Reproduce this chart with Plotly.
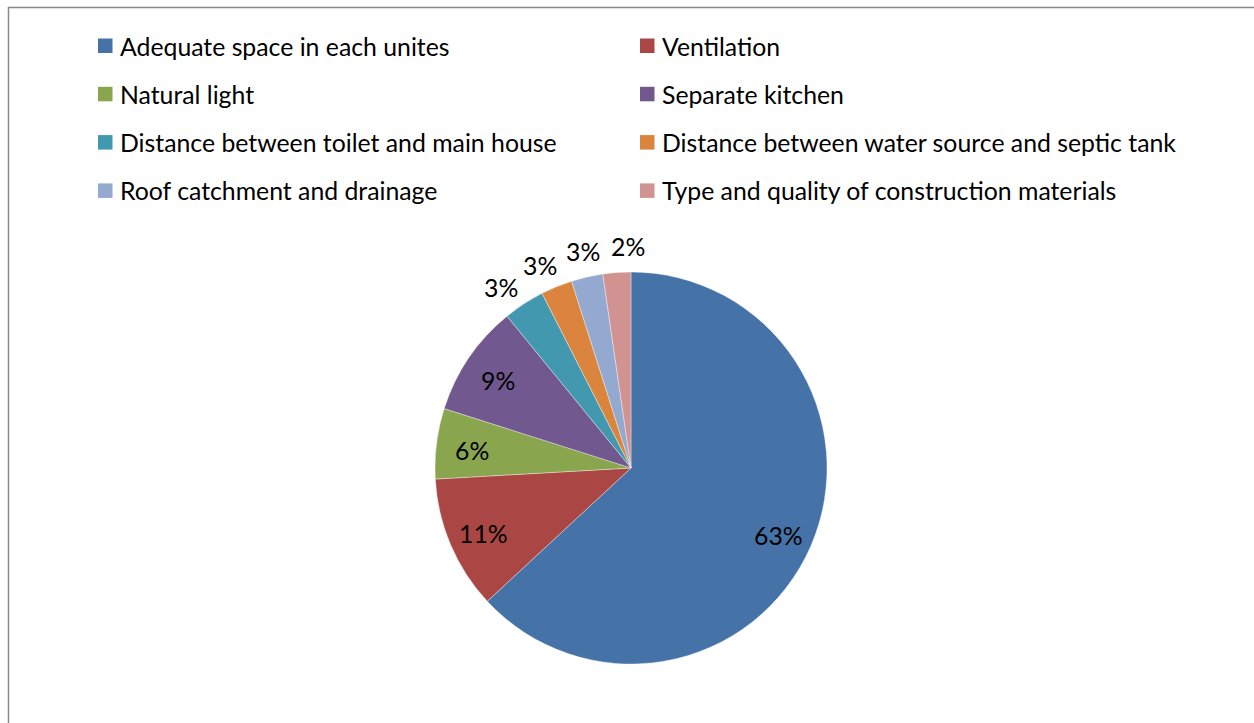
import math
import plotly.graph_objects as go

categories = [
    "Adequate space in each unites",
    "Ventilation",
    "Natural light",
    "Separate kitchen",
    "Distance between toilet and main house",
    "Distance between water source and septic tank",
    "Roof catchment and drainage",
    "Type and quality of construction materials",
]
values = [63.1, 11.0, 5.8, 9.2, 3.4, 2.6, 2.6, 2.3]
colors = ["#4572A7", "#AA4643", "#89A54E", "#71588F",
          "#4198AF", "#DB843D", "#93A9CF", "#D19392"]
label_outside = [False, False, False, False, True, True, True, True]

W, H = 1254, 723
FONT = "Lato"
FS = 24.8

def px(x):
    return x / W

def py(y):
    return 1 - y / H

cx, cy, r = 631, 468, 196

fig = go.Figure(go.Pie(
    labels=categories,
    values=values,
    sort=False,
    direction="clockwise",
    rotation=0,
    marker=dict(colors=colors, line=dict(color="rgba(255,255,255,0.6)", width=0.6)),
    textinfo="none",
    showlegend=False,
    domain=dict(x=[px(cx - r), px(cx + r)], y=[py(cy + r), py(cy - r)]),
    hoverinfo="label+percent",
))

shapes = [dict(type="rect", xref="paper", yref="paper",
               x0=px(8.5), x1=1.02, y0=py(7.5), y1=-0.02,
               line=dict(color="#898989", width=1.5), fillcolor="rgba(0,0,0,0)")]
annotations = []

# legend (two columns)
for i, (cat, col) in enumerate(zip(categories, colors)):
    c, row = i % 2, i // 2
    xoff = c * 542
    ycen = 46 + row * 48.3
    shapes.append(dict(type="rect", xref="paper", yref="paper",
                       x0=px(98 + xoff), x1=px(112.5 + xoff),
                       y0=py(ycen - 7.5), y1=py(ycen + 7),
                       fillcolor=col, line=dict(width=0)))
    annotations.append(dict(xref="paper", yref="paper", x=px(118 + xoff), y=py(ycen),
                            text=cat, showarrow=False, xanchor="left", yanchor="middle",
                            font=dict(family=FONT, size=FS, color="black")))

# percentage labels at slice mid-angles
total = sum(values)
mids = []
cum = 0.0
for v in values:
    mids.append((cum + v / 2) / total * 360.0)
    cum += v

# spread crowded outside labels so they keep a minimum angular gap
out_idx = [i for i, o in enumerate(label_outside) if o]
ang = {i: mids[i] for i in out_idx}
MIN_GAP = 11.5
for _ in range(200):
    for a, b in zip(out_idx, out_idx[1:]):
        gap = ang[b] - ang[a]
        if gap < MIN_GAP:
            d = (MIN_GAP - gap) / 2
            ang[a] -= d
            ang[b] += d

for i, (v, outside) in enumerate(zip(values, label_outside)):
    theta = math.radians(ang.get(i, mids[i]))
    rr = r + 29 if outside else r * 0.82
    lx = cx + rr * math.sin(theta)
    ly = cy - rr * math.cos(theta)
    annotations.append(dict(xref="paper", yref="paper", x=px(lx), y=py(ly),
                            text=f"{round(v / total * 100)}%", showarrow=False,
                            xanchor="center", yanchor="middle", yshift=-3,
                            font=dict(family=FONT, size=FS, color="black")))

fig.update_layout(
    width=W, height=H,
    margin=dict(l=0, r=0, t=0, b=0),
    paper_bgcolor="white",
    plot_bgcolor="white",
    shapes=shapes,
    annotations=annotations,
)

fig.write_html("out.html")
